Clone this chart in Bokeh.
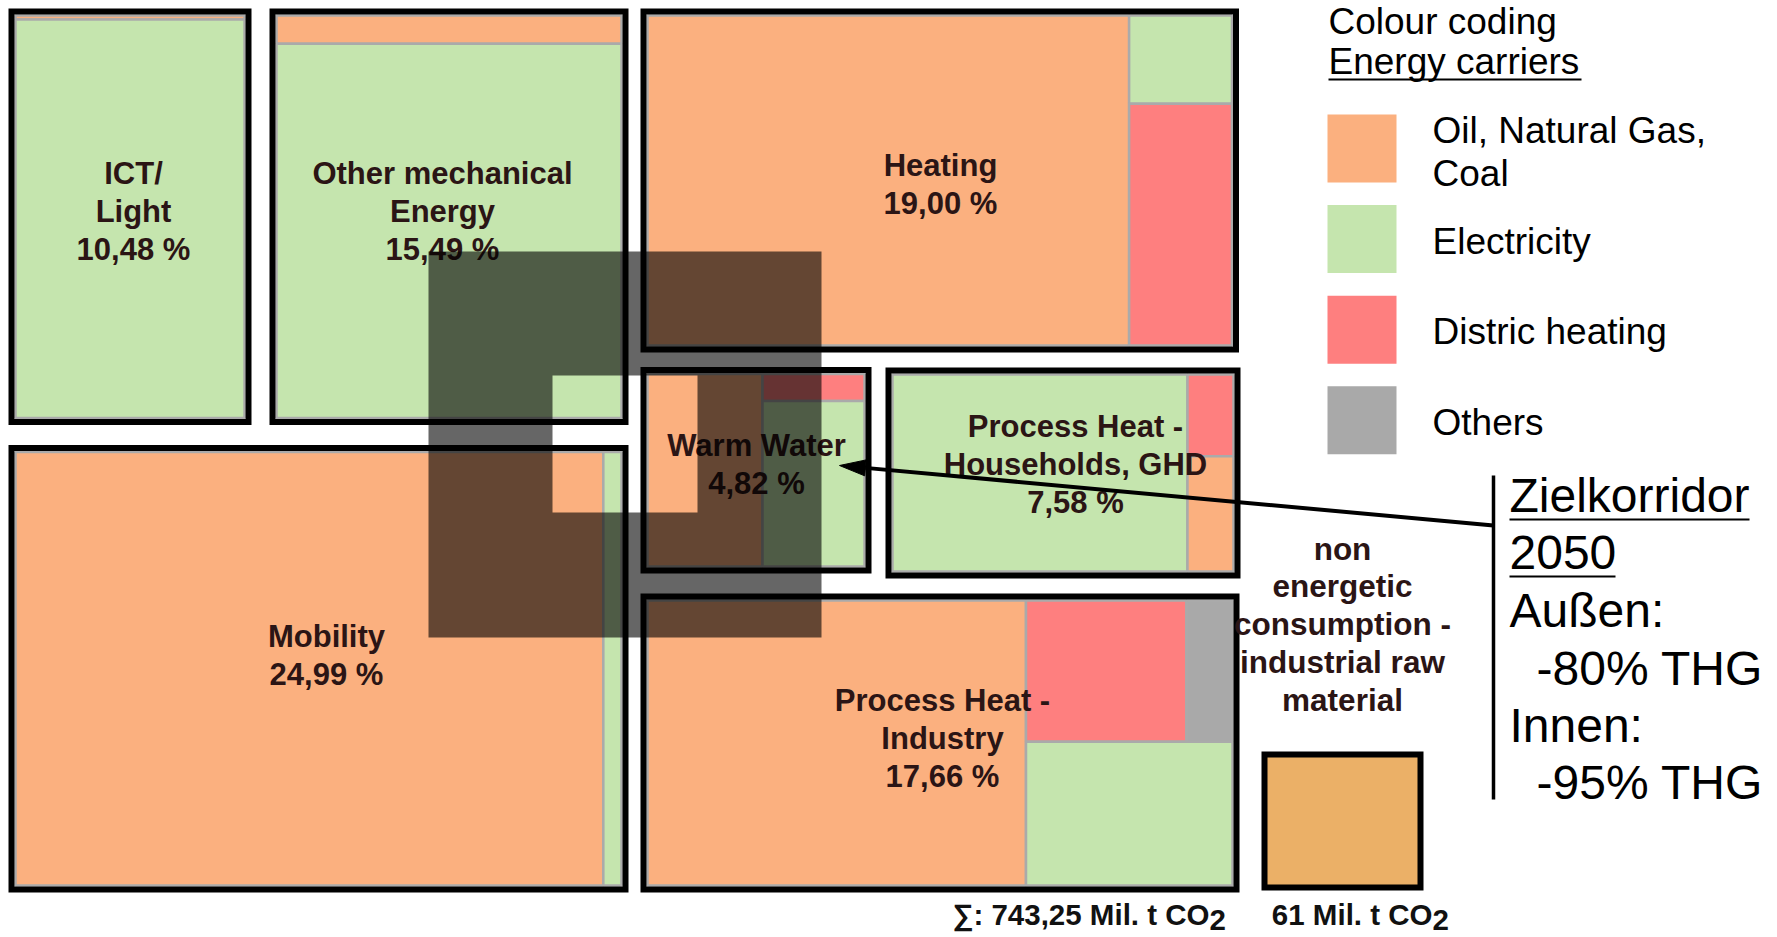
from bokeh.plotting import figure
from bokeh.models import Range1d
from bokeh.embed import file_html
from bokeh.resources import INLINE
from bokeh.core.properties import value

# ---------------- data ----------------
sector_names = [["ICT/", "Light"], ["Other mechanical", "Energy"], ["Heating"], ["Warm Water"],
                ["Process Heat -", "Households, GHD"], ["Mobility"], ["Process Heat -", "Industry"]]
sector_shares = [10.48, 15.49, 19.00, 4.82, 7.58, 24.99, 17.66]

carrier_keys = ["oil", "elec", "dist", "other"]
carrier_names = [["Oil, Natural Gas,", "Coal"], ["Electricity"], ["Distric heating"], ["Others"]]

# energy-carrier mix inside each sector (% of the sector)
mix_oil = [1.0, 7.0, 82.4, 53.0, 7.9, 97.0, 64.7]
mix_elec = [99.0, 93.0, 4.7, 40.4, 86.5, 3.0, 17.8]
mix_dist = [0.0, 0.0, 12.9, 6.6, 5.6, 0.0, 13.6]
mix_other = [0.0, 0.0, 0.0, 0.0, 0.0, 0.0, 3.9]

total_text = "∑: 743,25 Mil. t CO"
nonenergetic_text = ["non", "energetic", "consumption -", "industrial raw", "material"]
nonenergetic_total = "61 Mil. t CO"
target_title = ["Zielkorridor", "2050"]
target_lines = ["Außen:", "-80% THG", "Innen:", "-95% THG"]
legend_title = ["Colour coding", "Energy carriers"]

# ---------------- styles / layout ----------------
COL = {"oil": "#FBB07F", "elec": "#C5E5AE", "dist": "#FE7F7F", "other": "#A9A9A9"}
LABEL_COLOR = "#2B1515"
FONT = value("Liberation Sans")

# outer bounds of the sector boxes (left, right, top, bottom) in page pixels
boxes = [(8, 251, 8, 424.5), (269, 628, 8, 424.5), (640, 1238.5, 8, 352),
         (640, 871, 366.5, 573), (885, 1240, 367, 578), (8, 628, 444.5, 892),
         (640, 1239, 593, 892)]
# how each box is subdivided by energy carrier
trees = [("v", ["oil", "elec"]), ("v", ["oil", "elec"]),
         ("h", ["oil", ("v", ["elec", "dist"])]),
         ("h", ["oil", ("v", ["dist", "elec"])]),
         ("h", ["elec", ("v", ["dist", "oil"])]),
         ("h", ["oil", "elec"]),
         ("h", ["oil", ("v", [("h", ["dist", "other"]), "elec"])])]
label_anchor = [(133, 211), (442, 211), (940, 183.5), (756, 463.5), (1075, 464), (326, 654.5), (942, 738)]
LINE = 38

W, H = 1777, 937
p = figure(width=W, height=H, x_range=Range1d(0, W), y_range=Range1d(H, 0),
           output_backend="svg", toolbar_location=None, x_axis_type=None, y_axis_type=None,
           min_border=0)
p.outline_line_color = None
p.background_fill_color = "white"
p.border_fill_color = "white"


def weight(node, mix):
    if isinstance(node, str):
        return mix[node]
    return sum(weight(k, mix) for k in node[1])


def split(node, x0, x1, y0, y1, mix, out):
    if isinstance(node, str):
        out.append((x0, x1, y0, y1, COL[node]))
        return
    d, kids = node
    tot = sum(weight(k, mix) for k in kids)
    pos = x0 if d == "h" else y0
    for k in kids:
        f = weight(k, mix) / tot
        if d == "h":
            nx = pos + (x1 - x0) * f
            split(k, pos, nx, y0, y1, mix, out)
            pos = nx
        else:
            ny = pos + (y1 - y0) * f
            split(k, x0, x1, pos, ny, mix, out)
            pos = ny


tiles = []
for i, (l, r, t, b) in enumerate(boxes):
    mix = {"oil": mix_oil[i], "elec": mix_elec[i], "dist": mix_dist[i], "other": mix_other[i]}
    split(trees[i], l + 7, r - 7, t + 7, b - 7, mix, tiles)

p.quad(left=[t[0] for t in tiles], right=[t[1] for t in tiles], top=[t[2] for t in tiles],
       bottom=[t[3] for t in tiles], fill_color=[t[4] for t in tiles], line_color="#AAAAAA",
       line_width=2.5)
p.quad(left=[b[0] + 3 for b in boxes], right=[b[1] - 3 for b in boxes], top=[b[2] + 3 for b in boxes],
       bottom=[b[3] - 3 for b in boxes], fill_color=None, line_color="black", line_width=6,
       line_join="miter")

# sector labels
lx, ly, lt = [], [], []
for i, (cx, cy) in enumerate(label_anchor):
    lines = sector_names[i] + [f"{sector_shares[i]:.2f} %".replace(".", ",")]
    n = len(lines)
    for j, s in enumerate(lines):
        lx.append(cx)
        ly.append(cy + (j - (n - 1) / 2) * LINE)
        lt.append(s)
p.text(lx, ly, text=lt, text_font=FONT, text_font_style="bold", text_font_size="31px",
       text_align="center", text_baseline="middle", text_color=LABEL_COLOR)

# non-energetic consumption box
ne_box = (1261, 1423, 751, 890)
p.quad(left=[ne_box[0] + 3], right=[ne_box[1] - 3], top=[ne_box[2] + 3], bottom=[ne_box[3] - 3],
       fill_color="#EBB067", line_color="black", line_width=6, line_join="miter")
ne_cx = (ne_box[0] + ne_box[1]) / 2
p.text([ne_cx] * len(nonenergetic_text), [548 + k * 37.8 for k in range(len(nonenergetic_text))],
       text=nonenergetic_text, text_font=FONT, text_font_style="bold", text_font_size="31.5px",
       text_align="center", text_baseline="middle", text_color=LABEL_COLOR)

# totals with subscript 2
p.text([1209, 1432], [914, 914], text=[total_text, nonenergetic_total], text_font=FONT,
       text_font_style="bold", text_font_size="29.5px", text_align="right",
       text_baseline="middle", text_color="#111111")
p.text([1209, 1432], [919, 919], text=["2", "2"], text_font=FONT, text_font_style="bold",
       text_font_size="29.5px", text_align="left", text_baseline="middle", text_color="#111111")

# dark overlay present in the source picture
p.multi_polygons(xs=[[[[428, 821, 821, 428], [552, 697, 697, 552]]]],
                 ys=[[[[251, 251, 637, 637], [375, 375, 512, 512]]]],
                 fill_color="black", fill_alpha=0.6, line_color=None)

# legend
p.text([1328, 1328], [21, 61], text=legend_title, text_font=FONT, text_font_size="37px",
       text_align="left", text_baseline="middle", text_color="black")
p.segment(x0=[1328], y0=[79], x1=[1581], y1=[79], line_color="black", line_width=2)
sw_top = [114 + k * 90.6 for k in range(4)]
p.quad(left=[1327] * 4, right=[1396] * 4, top=sw_top, bottom=[t + 68 for t in sw_top],
       fill_color=[COL[k] for k in carrier_keys], line_color=None)
gx, gy, gt = [], [], []
for k, names in enumerate(carrier_names):
    c = sw_top[k] + 34
    offs = [-18, 25] if len(names) == 2 else [2]
    for s, o in zip(names, offs):
        gx.append(1432)
        gy.append(c + o)
        gt.append(s)
p.text(gx, gy, text=gt, text_font=FONT, text_font_size="37px", text_align="left",
       text_baseline="middle", text_color="black")

# target corridor
p.segment(x0=[1493], y0=[475], x1=[1493], y1=[799], line_color="black", line_width=3.5)
tc = [495, 552, 610, 667.5, 725, 782]
p.text([1509, 1509, 1509, 1536, 1509, 1536], tc, text=target_title + target_lines, text_font=FONT,
       text_font_size="48px", text_align="left", text_baseline="middle", text_color="black")
p.segment(x0=[1509, 1509], y0=[519, 576], x1=[1749, 1615], y1=[519, 576], line_color="black",
          line_width=2)

# arrow to warm water
sx, sy, tx, ty = 1493, 525, 839, 465
dx, dy = sx - tx, sy - ty
ln = (dx * dx + dy * dy) ** 0.5
ux, uy = dx / ln, dy / ln
bx, by = tx + ux * 26, ty + uy * 26
nx, ny = -uy, ux
p.line([sx, bx], [sy, by], line_color="black", line_width=4)
p.patch([tx, bx + nx * 8, bx - nx * 8], [ty, by + ny * 8, by - ny * 8], fill_color="black",
        line_color="black", line_width=1)

open("out.html", "w").write(file_html(p, INLINE))
